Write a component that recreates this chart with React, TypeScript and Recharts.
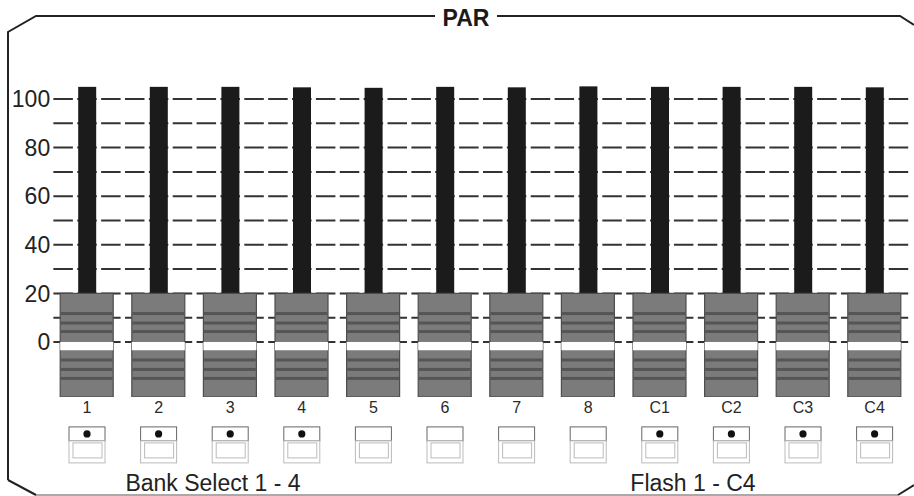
import React from 'react';
import { ComposedChart, Bar, XAxis, YAxis, CartesianGrid } from 'recharts';

const FONT = '"Liberation Sans", Arial, Helvetica, sans-serif';

const title = 'PAR';
const channels = ['1', '2', '3', '4', '5', '6', '7', '8', 'C1', 'C2', 'C3', 'C4'];
const faderLevels = [105, 105, 105, 104.8, 104.6, 105, 104.8, 105.2, 105, 105, 105, 104.8];
const knobTops = [20, 20, 20, 20, 20, 20, 20, 20, 20, 20, 20, 20];
const knobBottoms = [-22.6, -22.6, -22.6, -22.6, -22.6, -22.6, -22.6, -22.6, -22.6, -22.6, -22.6, -22.6];
const ledOn = [true, true, true, true, false, false, false, false, true, true, true, true];
const gridTicks = [0, 10, 20, 30, 40, 50, 60, 70, 80, 90, 100];
const labeledTicks = [0, 20, 40, 60, 80, 100];
const knobStripes = [11.7, 7.8, 4.3, -7.4, -11.3, -15.0];
const knobBand = [0, -3.4];
const sectionLabels = ['Bank Select 1 - 4', 'Flash 1 - C4'];
const yDomain = [-22.6, 110];

const data = channels.map((name, i) => ({
  name,
  slot: [knobTops[i], faderLevels[i]],
  knob: [knobBottoms[i], knobTops[i]],
}));

const KnobShape = (props: any) => {
  const { x, y, width, height, payload } = props;
  const [lo, hi] = payload.knob;
  const top = Math.min(y, y + height);
  const h = Math.abs(height);
  const toY = (v: number) => top + ((hi - v) / (hi - lo)) * h;
  return (
    <g>
      <rect x={x} y={top} width={width} height={h} fill="#7b7b7b" stroke="#4d4d4d" strokeWidth={1.2} />
      {knobStripes.map((v, k) => (
        <rect key={k} x={x + 0.6} y={toY(v) - 1.5} width={width - 1.2} height={3} fill="#555555" />
      ))}
      <rect x={x} y={toY(knobBand[0])} width={width} height={toY(knobBand[1]) - toY(knobBand[0])} fill="#ffffff" />
    </g>
  );
};

const SlotShape = (props: any) => {
  const { x, y, width, height } = props;
  const top = Math.min(y, y + height);
  return <rect x={x} y={top} width={width} height={Math.abs(height)} fill="#1b1b1b" />;
};

const ChannelTick = (props: any) => {
  const { x, y, payload } = props;
  const i = payload.index ?? channels.indexOf(payload.value);
  const on = ledOn[i];
  return (
    <g>
      <text x={x} y={y + 16} textAnchor="middle" fontSize={16} fill="#2a2a2a" fontFamily={FONT}>
        {payload.value}
      </text>
      <rect x={x - 18} y={y + 30} width={36} height={14} fill="#fff" stroke="#666" strokeWidth={1} />
      {on && <circle cx={x} cy={y + 37} r={3.6} fill="#111" />}
      <rect x={x - 18} y={y + 44} width={36} height={22} fill="#fff" stroke="#bbb" strokeWidth={1} />
      <rect x={x - 14} y={y + 46} width={29} height={15} fill="none" stroke="#bbb" strokeWidth={1} />
    </g>
  );
};

const GridLine = (props: any) => {
  const { x1, y1, x2, y2, index } = props;
  return (
    <line
      key={`grid-${index}-${y1}`}
      x1={x1}
      y1={y1}
      x2={x2}
      y2={y2}
      stroke="#333"
      strokeWidth={2}
      strokeDasharray="19.5 4.367"
      strokeDashoffset={21.69}
    />
  );
};

export default function App() {
  return (
    <div style={{ position: 'absolute', left: 0, top: 0, width: 914, height: 496, background: '#fff' }}>
      <svg width={914} height={496} style={{ position: 'absolute', left: 0, top: 0 }}>
        <path d="M 8 480 L 8 32 L 36 16 L 435 16" fill="none" stroke="#222" strokeWidth={2} />
        <path d="M 497 16 L 900 16 L 914 25" fill="none" stroke="#222" strokeWidth={2} />
        <path d="M 8 480 L 36 495" fill="none" stroke="#222" strokeWidth={2} />
        <path d="M 36 495 L 898 495" fill="none" stroke="#555" strokeWidth={1} />
        <path d="M 898 495 L 914 485" fill="none" stroke="#222" strokeWidth={2} />
        <text x={466} y={26} textAnchor="middle" fontSize={23} fontWeight="bold" fill="#1a1a1a" fontFamily={FONT}>
          {title}
        </text>
        <text x={213} y={491} textAnchor="middle" fontSize={23} fill="#222" fontFamily={FONT}>
          {sectionLabels[0]}
        </text>
        <text x={693} y={491} textAnchor="middle" fontSize={23} fill="#222" fontFamily={FONT}>
          {sectionLabels[1]}
        </text>
      </svg>
      <div style={{ position: 'absolute', left: 0, top: 0 }}>
        <ComposedChart
          width={914}
          height={496}
          data={data}
          margin={{ top: 74.7, right: 3.6, bottom: 0, left: 0 }}
        >
          <CartesianGrid vertical={false} horizontal={GridLine} horizontalValues={gridTicks} />
          <YAxis
            type="number"
            domain={yDomain}
            ticks={gridTicks}
            interval={0}
            width={51.2}
            axisLine={false}
            tickLine={false}
            tickSize={0}
            tickMargin={1}
            allowDataOverflow
            tickFormatter={(v: number) => (labeledTicks.includes(v) ? String(v) : '')}
            tick={{ fontSize: 23, fill: '#222', fontFamily: FONT }}
          />
          <XAxis
            xAxisId="chan"
            dataKey="name"
            height={99.1}
            axisLine={false}
            tickLine={false}
            tickSize={0}
            tickMargin={0}
            interval={0}
            tick={<ChannelTick />}
          />
          <XAxis xAxisId="slot" dataKey="name" hide />
          <Bar xAxisId="slot" dataKey="slot" barSize={18} shape={<SlotShape />} isAnimationActive={false} />
          <Bar xAxisId="chan" dataKey="knob" barSize={53} shape={<KnobShape />} isAnimationActive={false} />
        </ComposedChart>
      </div>
    </div>
  );
}
